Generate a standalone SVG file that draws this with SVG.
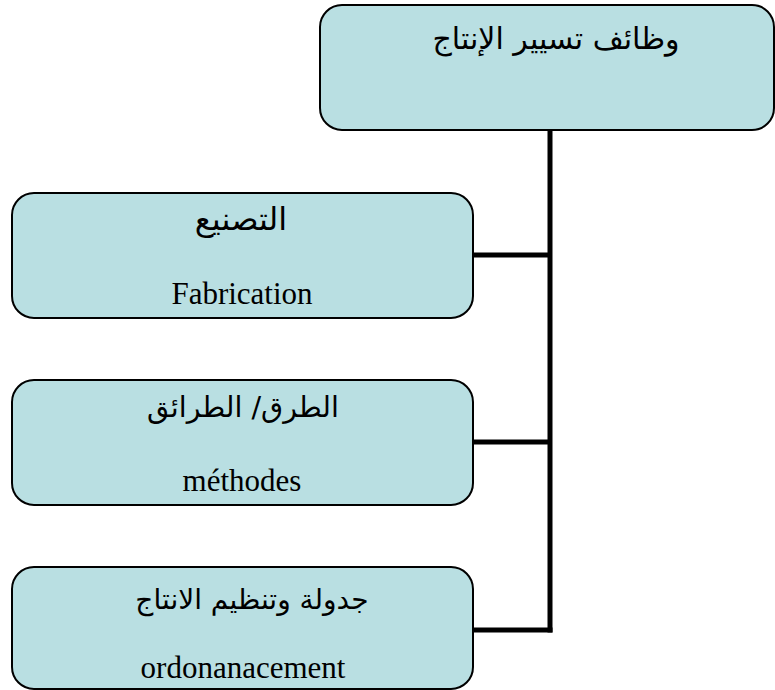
<svg xmlns="http://www.w3.org/2000/svg" width="775" height="690" viewBox="0 0 775 690">
<style>
.box{fill:#b9dfe2;stroke:#000;stroke-width:2}
.ar{font-family:"DejaVu Sans","Liberation Sans",sans-serif;fill:#000;text-anchor:middle}
.lat{font-family:"Liberation Serif",serif;font-size:31px;fill:#000;text-anchor:middle}
.conn{stroke:#000;stroke-width:5;fill:none}
</style>
<rect width="775" height="690" fill="#fff"/>
<g id="connectors">
<line class="conn" x1="550" y1="130" x2="550" y2="632.5"/>
<line class="conn" x1="473" y1="255" x2="550" y2="255"/>
<line class="conn" x1="473" y1="442" x2="550" y2="442"/>
<line class="conn" x1="473" y1="630" x2="552.5" y2="630"/>
</g>
<g id="root">
<rect class="box" x="320" y="5" width="454" height="125" rx="22"/>
<text class="ar" x="556" y="49" font-size="30" direction="rtl">وظائف تسيير الإنتاج</text>
</g>
<g id="fabrication">
<rect class="box" x="12" y="193" width="461" height="125" rx="22"/>
<text class="ar" x="241" y="230" font-size="32" direction="rtl">التصنيع</text>
<text class="lat" x="242" y="304">Fabrication</text>
</g>
<g id="methodes">
<rect class="box" x="12" y="380" width="461" height="125" rx="22"/>
<text class="ar" x="243" y="417" font-size="28.5" direction="rtl">الطرق/ الطرائق</text>
<text class="lat" x="242" y="491">méthodes</text>
</g>
<g id="ordonnancement">
<rect class="box" x="12" y="567" width="461" height="122" rx="22"/>
<text class="ar" x="252" y="609" font-size="28" direction="rtl">جدولة وتنظيم الانتاج</text>
<text class="lat" x="243" y="678">ordonanacement</text>
</g>
</svg>
